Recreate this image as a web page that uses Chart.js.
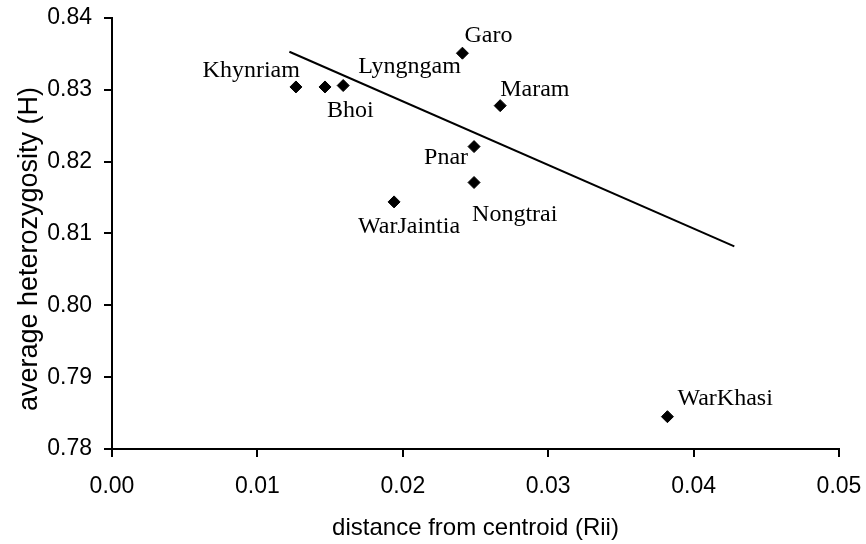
<!DOCTYPE html>
<html>
<head>
<meta charset="utf-8">
<script src="https://cdn.jsdelivr.net/npm/chart.js@4.4.0/dist/chart.umd.min.js"></script>
<style>
  body { margin: 0; background: #fff; }
  #wrap { width: 866px; height: 544px; }
</style>
</head>
<body>
<div id="wrap"><canvas id="chart" width="866" height="544"></canvas></div>
<script>
// population data
const populations = ["Khynriam", "Bhoi", "Lyngngam", "WarJaintia", "Garo", "Maram", "Pnar", "Nongtrai", "WarKhasi"];
const distance = [0.01265, 0.01465, 0.0159, 0.0194, 0.0241, 0.0267, 0.0249, 0.0249, 0.0382];
const heterozygosity = [0.8304, 0.8304, 0.8306, 0.8144, 0.8351, 0.8278, 0.8221, 0.8171, 0.7845];

// regression line end points
const trendX = [0.0122, 0.0428];
const trendY = [0.8353, 0.8082];

const xTicks = [0, 0.01, 0.02, 0.03, 0.04, 0.05];
const yTicks = [0.78, 0.79, 0.80, 0.81, 0.82, 0.83, 0.84];

const yTitle = "average heterozygosity (H)";

// label placement relative to each marker: [dx, dy, align]
const labelPlace = {
  Khynriam: [4, -10, "right"],
  Bhoi: [2, 30, "left"],
  Lyngngam: [15, -13, "left"],
  WarJaintia: [-36, 31, "left"],
  Garo: [2, -11, "left"],
  Maram: [0, -10, "left"],
  Pnar: [-6, 17, "right"],
  Nongtrai: [-2, 39, "left"],
  WarKhasi: [10, -12, "left"]
};

const sans = "'Liberation Sans', Arial, sans-serif";

const pointLabels = {
  id: "pointLabels",
  afterDatasetsDraw(chart) {
    const ctx = chart.ctx;
    const meta = chart.getDatasetMeta(0);
    ctx.save();
    ctx.font = "24px 'Liberation Serif', 'Times New Roman', serif";
    ctx.fillStyle = "#000";
    ctx.textBaseline = "alphabetic";
    meta.data.forEach(function (pt, i) {
      const name = populations[i];
      const p = labelPlace[name];
      ctx.textAlign = p[2];
      ctx.fillText(name, pt.x + p[0], pt.y + p[1]);
    });
    ctx.restore();
  }
};

// y title sits a bit below the axis centre in the original
const yTitlePlugin = {
  id: "yTitle",
  afterDraw(chart) {
    const ctx = chart.ctx;
    ctx.save();
    ctx.translate(30, 249);
    ctx.rotate(-Math.PI / 2);
    ctx.font = "27px " + sans;
    ctx.fillStyle = "#000";
    ctx.textAlign = "center";
    ctx.textBaseline = "middle";
    ctx.fillText(yTitle, 0, 0);
    ctx.restore();
  }
};

// keep the plot area fixed: no automatic room for overhanging tick labels
function noAutoPadding(scale) {
  scale.paddingLeft = 0;
  scale.paddingRight = 0;
  scale.paddingTop = 0;
  scale.paddingBottom = 0;
}

const ctx = document.getElementById("chart").getContext("2d");
new Chart(ctx, {
  type: "scatter",
  data: {
    datasets: [
      {
        label: "populations",
        data: distance.map((d, i) => ({ x: d, y: heterozygosity[i] })),
        pointStyle: "rectRot",
        pointRadius: 6,
        pointBackgroundColor: "#000",
        pointBorderColor: "#000",
        pointBorderWidth: 1
      },
      {
        label: "trend",
        type: "line",
        data: trendX.map((d, i) => ({ x: d, y: trendY[i] })),
        borderColor: "#000",
        borderWidth: 2,
        pointRadius: 0,
        fill: false
      }
    ]
  },
  options: {
    responsive: false,
    animation: false,
    layout: { padding: { top: 18, right: 27, left: 0, bottom: 0 } },
    plugins: {
      legend: { display: false },
      tooltip: { enabled: false }
    },
    scales: {
      x: {
        type: "linear",
        min: 0,
        max: 0.05,
        afterFit: function (scale) { scale.height = 95; noAutoPadding(scale); },
        afterBuildTicks: function (scale) { scale.ticks = xTicks.map(v => ({ value: v })); },
        border: { color: "#000", width: 2 },
        grid: { drawOnChartArea: false, color: "#000", lineWidth: 2, tickLength: 8 },
        ticks: {
          color: "#000",
          padding: 16,
          font: { family: sans, size: 23 },
          callback: v => v.toFixed(2)
        },
        title: {
          display: true,
          text: "distance from centroid (Rii)",
          color: "#000",
          font: { family: sans, size: 24 },
          padding: { top: 0, bottom: 1 }
        }
      },
      y: {
        type: "linear",
        min: 0.78,
        max: 0.84,
        afterFit: function (scale) { scale.width = 112; noAutoPadding(scale); },
        afterBuildTicks: function (scale) { scale.ticks = yTicks.map(v => ({ value: v })); },
        border: { color: "#000", width: 2 },
        grid: { drawOnChartArea: false, color: "#000", lineWidth: 2, tickLength: 8 },
        ticks: {
          color: "#000",
          padding: 12,
          font: { family: sans, size: 23 },
          callback: v => v.toFixed(2)
        },
        title: { display: false }
      }
    }
  },
  plugins: [pointLabels, yTitlePlugin]
});
</script>
</body>
</html>
